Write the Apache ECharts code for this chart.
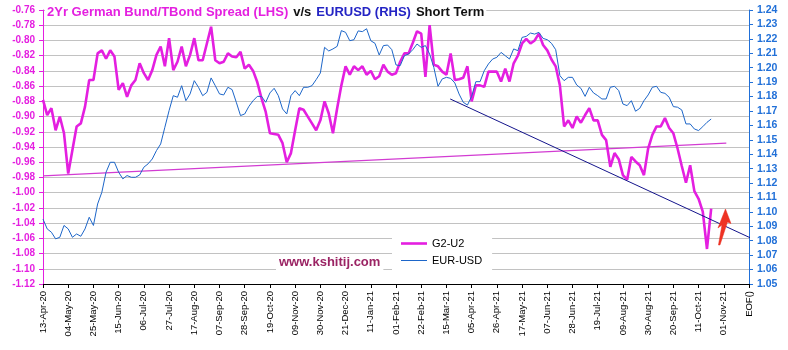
<!DOCTYPE html>
<html>
<head>
<meta charset="utf-8">
<script src="https://cdn.jsdelivr.net/npm/echarts@6/dist/echarts.min.js"></script>
<style>
  html, body { margin: 0; padding: 0; background: #fff; }
  #chart { width: 788px; height: 350px; }
</style>
</head>
<body>
<div id="chart"></div>
<script>
// x positions are half-week steps from 13-Apr-20; one labelled tick every 3 weeks
const tickLabels = ['13-Apr-20','04-May-20','25-May-20','15-Jun-20','06-Jul-20','27-Jul-20','17-Aug-20',
  '07-Sep-20','28-Sep-20','19-Oct-20','09-Nov-20','30-Nov-20','21-Dec-20','11-Jan-21','01-Feb-21',
  '22-Feb-21','15-Mar-21','05-Apr-21','26-Apr-21','17-May-21','07-Jun-21','28-Jun-21','19-Jul-21',
  '09-Aug-21','30-Aug-21','20-Sep-21','11-Oct-21','01-Nov-21','EOF()'];
const stepsPerTick = 6;

// 2-year German Bund minus 2-year US Treasury yield spread (LHS)
const g2u2 = [
  -0.878,-0.898,-0.889,-0.918,-0.900,-0.922,-0.975,-0.944,-0.913,-0.909,
  -0.887,-0.852,-0.852,-0.817,-0.813,-0.824,-0.813,-0.821,-0.865,-0.856,
  -0.874,-0.859,-0.852,-0.830,-0.843,-0.852,-0.839,-0.819,-0.808,-0.834,
  -0.797,-0.839,-0.828,-0.808,-0.834,-0.819,-0.797,-0.826,-0.826,-0.804,
  -0.782,-0.826,-0.830,-0.828,-0.817,-0.821,-0.822,-0.815,-0.837,-0.832,
  -0.840,-0.855,-0.876,-0.894,-0.922,-0.923,-0.924,-0.935,-0.960,-0.948,
  -0.918,-0.889,-0.891,-0.900,-0.909,-0.918,-0.905,-0.880,-0.896,-0.922,
  -0.889,-0.859,-0.834,-0.845,-0.834,-0.839,-0.834,-0.845,-0.840,-0.851,
  -0.847,-0.832,-0.841,-0.845,-0.843,-0.828,-0.817,-0.817,-0.803,-0.788,
  -0.791,-0.848,-0.780,-0.832,-0.834,-0.841,-0.845,-0.817,-0.852,-0.851,
  -0.849,-0.834,-0.880,-0.859,-0.859,-0.861,-0.841,-0.841,-0.841,-0.854,
  -0.837,-0.854,-0.830,-0.820,-0.804,-0.798,-0.804,-0.800,-0.791,-0.806,
  -0.813,-0.825,-0.834,-0.859,-0.913,-0.905,-0.915,-0.900,-0.908,-0.898,
  -0.889,-0.905,-0.905,-0.924,-0.931,-0.966,-0.948,-0.956,-0.977,-0.983,
  -0.953,-0.959,-0.964,-0.977,-0.942,-0.924,-0.913,-0.913,-0.902,-0.915,
  -0.922,-0.942,-0.965,-0.987,-0.964,-0.998,-1.008,-1.025,-1.074,-1.021
];

// EUR/USD spot (RHS)
const eurusd = [
  1.0950,1.0882,1.0859,1.0813,1.0824,1.0906,1.0882,1.0824,1.0847,1.0831,
  1.0882,1.0963,1.0906,1.1055,1.1136,1.1275,1.1344,1.1344,1.1275,1.1229,
  1.1252,1.1240,1.1240,1.1256,1.1310,1.1333,1.1367,1.1425,1.1471,1.1587,
  1.1702,1.1806,1.1795,1.1875,1.1771,1.1818,1.1910,1.1864,1.1806,1.1829,
  1.1929,1.1875,1.1818,1.1811,1.1864,1.1848,1.1760,1.1668,1.1679,1.1732,
  1.1771,1.1801,1.1801,1.1760,1.1825,1.1857,1.1806,1.1714,1.1679,1.1806,
  1.1841,1.1806,1.1864,1.1864,1.1875,1.1917,1.1963,1.2141,1.2116,1.2130,
  1.2148,1.2257,1.2245,1.2187,1.2194,1.2255,1.2250,1.2270,1.2187,1.2169,
  1.2088,1.2153,1.2157,1.2125,1.2019,1.2014,1.2083,1.2095,1.2125,1.2164,
  1.2141,1.2153,1.2095,1.2002,1.1871,1.1922,1.1933,1.1926,1.1894,1.1818,
  1.1760,1.1741,1.1801,1.1903,1.1903,1.1979,1.2026,1.2060,1.2072,1.2106,
  1.2083,1.2060,1.2130,1.2118,1.2210,1.2217,1.2240,1.2233,1.2245,1.2203,
  1.2194,1.2169,1.2125,1.1945,1.1910,1.1933,1.1933,1.1880,1.1857,1.1801,
  1.1864,1.1825,1.1806,1.1783,1.1783,1.1864,1.1871,1.1841,1.1748,1.1737,
  1.1771,1.1698,1.1718,1.1771,1.1811,1.1864,1.1871,1.1829,1.1822,1.1795,
  1.1730,1.1726,1.1707,1.1610,1.1610,1.1575,1.1564,1.1591,1.1621,1.1644
];

// hand-drawn trend lines: spread support (LHS) and EUR/USD falling trend (RHS)
const spreadTrendX = [0, 162.6];
const spreadTrendY = [-0.978, -0.935];
const fxTrendX = [96.9, 175];
const fxTrendY = [1.1783, 1.073];

// tip of the red "turning up" arrow, in x-step / EUR-USD units
const arrowTip = [162.4, 1.102];

const FONT = 'Liberation Sans, Arial, sans-serif';
const PINK = '#E41FE0';
const BLUE = '#1D66C9';
const AXIS_BLUE = '#2170D8';

const toPairs = (vals) => vals.map((v, i) => [i, v]);
const zip = (xs, ys) => xs.map((x, i) => [x, ys[i]]);

const chart = echarts.init(document.getElementById('chart'), null, { renderer: 'canvas' });

chart.setOption({
  animation: false,
  backgroundColor: '#fff',
  title: {
    left: 45,
    top: 3,
    padding: [0, 2],
    backgroundColor: '#fff',
    text: '{a|2Yr German Bund/TBond Spread (LHS)} {b|v/s} {c|EURUSD (RHS)} {b|Short Term}',
    textStyle: {
      fontFamily: FONT,
      rich: {
        a: { color: PINK, fontWeight: 'bold', fontSize: 13, fontFamily: FONT },
        b: { color: '#111', fontWeight: 'bold', fontSize: 13, fontFamily: FONT },
        c: { color: '#2424C4', fontWeight: 'bold', fontSize: 13, fontFamily: FONT }
      }
    }
  },
  grid: { left: 43, right: 39, top: 10, bottom: 66 },
  legend: {
    orient: 'vertical',
    left: 392,
    top: 233,
    padding: [5, 10, 4, 9],
    backgroundColor: '#fff',
    itemWidth: 26,
    itemHeight: 12,
    itemGap: 6,
    symbolKeepAspect: true,
    textStyle: { fontFamily: FONT, fontSize: 11, color: '#000' },
    data: [
      { name: 'G2-U2', icon: 'path://M0,0H26V2.6H0Z' },
      { name: 'EUR-USD', icon: 'path://M0,0H26V1H0Z' }
    ]
  },
  xAxis: {
    type: 'value',
    min: 0,
    max: (tickLabels.length - 1) * stepsPerTick,
    interval: stepsPerTick,
    axisLine: { onZero: false, lineStyle: { color: '#000', width: 1 } },
    axisTick: { show: true, length: 4, lineStyle: { color: '#000' } },
    splitLine: { show: false },
    axisLabel: {
      rotate: 90,
      margin: 7,
      fontFamily: FONT,
      fontSize: 9.5,
      color: '#000',
      showMinLabel: true,
      showMaxLabel: true,
      formatter: (v) => tickLabels[Math.round(v / stepsPerTick)] || ''
    }
  },
  yAxis: [
    {
      type: 'value',
      position: 'left',
      min: -1.12,
      max: -0.76,
      interval: 0.02,
      axisLine: { show: true, lineStyle: { color: PINK, width: 1 } },
      axisTick: { show: true, length: 4, lineStyle: { color: PINK } },
      splitLine: { show: true, lineStyle: { color: '#C2C2C2', width: 1 } },
      axisLabel: {
        margin: 8,
        color: PINK,
        fontWeight: 'bold',
        fontFamily: FONT,
        fontSize: 10,
        formatter: (v) => v.toFixed(2)
      }
    },
    {
      type: 'value',
      position: 'right',
      min: 1.05,
      max: 1.24,
      interval: 0.01,
      axisLine: { show: true, lineStyle: { color: AXIS_BLUE, width: 1 } },
      axisTick: { show: true, length: 4, lineStyle: { color: AXIS_BLUE } },
      splitLine: { show: false },
      axisLabel: {
        margin: 8,
        color: AXIS_BLUE,
        fontWeight: 'bold',
        fontFamily: FONT,
        fontSize: 10.5,
        formatter: (v) => v.toFixed(2)
      }
    }
  ],
  series: [
    {
      name: 'G2-U2',
      type: 'line',
      yAxisIndex: 0,
      data: toPairs(g2u2),
      symbol: 'none',
      color: PINK,
      lineStyle: { color: PINK, width: 2.6 },
      z: 3
    },
    {
      name: 'EUR-USD',
      type: 'line',
      yAxisIndex: 1,
      data: toPairs(eurusd),
      symbol: 'none',
      color: BLUE,
      lineStyle: { color: BLUE, width: 1 },
      z: 4
    },
    {
      name: 'Spread trend',
      type: 'line',
      yAxisIndex: 0,
      data: zip(spreadTrendX, spreadTrendY),
      symbol: 'none',
      silent: true,
      lineStyle: { color: '#D23CD2', width: 1.2 },
      z: 2
    },
    {
      name: 'EURUSD trend',
      type: 'line',
      yAxisIndex: 1,
      data: zip(fxTrendX, fxTrendY),
      symbol: 'none',
      silent: true,
      clip: false,
      lineStyle: { color: '#14148C', width: 1 },
      z: 5
    }
  ]
});

// annotations: site watermark and the red arrow next to the latest spread reading
const tip = chart.convertToPixel({ xAxisIndex: 0, yAxisIndex: 1 }, arrowTip);
chart.setOption({
  graphic: [
    {
      type: 'text',
      left: 276,
      top: 254,
      z: 10,
      style: {
        text: 'www.kshitij.com',
        fontFamily: FONT,
        fontWeight: 'bold',
        fontSize: 13,
        fill: '#9B2464',
        backgroundColor: '#fff',
        padding: [2, 3, 2, 3]
      }
    },
    {
      type: 'polygon',
      x: tip[0],
      y: tip[1],
      z: 10,
      shape: {
        points: [[0, 0], [5.5, 14.5], [2, 13], [-5.5, 36], [-7, 36], [-3.5, 16], [-7.5, 19]]
      },
      style: { fill: '#EE3323', stroke: '#E82A1E', lineWidth: 0.5 }
    }
  ]
});
</script>
</body>
</html>
